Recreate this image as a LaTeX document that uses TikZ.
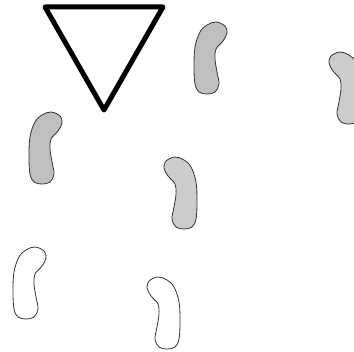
\documentclass[tikz,border=0pt]{standalone}
\usepackage{tikz}

\tikzset{
  bean/.pic={
    \draw[pic actions] plot[smooth cycle, tension=0.6] coordinates {
      (22,0) (31,4) (33,11) (29,19) (22,27) (21,37) (23,50) (25,62)
      (21,70) (13,72) (5,70) (1,62) (0,45) (1,25) (6,10) (13,3)};
  },
  darkbean/.style={fill=gray!50, draw=black!80, line width=0.8pt},
  lightbean/.style={fill=gray!40, draw=black!80, line width=0.8pt},
  emptybean/.style={fill=white, draw=black!80, line width=0.8pt}
}

\begin{document}
\begin{tikzpicture}[x=1pt, y=-1pt]
\useasboundingbox (0,0) rectangle (354,352);
\clip (0,0) rectangle (354,352);
\coordinate (A) at (45,7);
\coordinate (B) at (163,7);
\coordinate (C) at (104,110);
\draw[line width=5pt, line join=round] (A) -- (B) -- (C) -- cycle;
% beans facing one way
\pic[darkbean] at (194,22) {bean};
\pic[darkbean] at (29,112) {bean};
\pic[emptybean] at (13,247) {bean};
% beans facing the other way
\pic[lightbean, xscale=-1] at (197,157) {bean};
\pic[lightbean, xscale=-1] at (362,52) {bean};
\pic[emptybean, xscale=-1] at (180,277) {bean};
\end{tikzpicture}
\end{document}
